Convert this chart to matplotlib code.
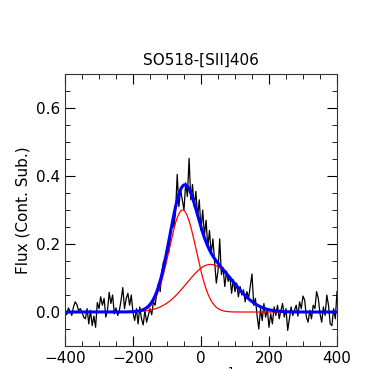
# SO518 [SII] 406 line profile with two-gaussian fit

import numpy as np
import matplotlib.pyplot as plt
from matplotlib.ticker import MultipleLocator

# velocity grid (km/s), 5 km/s steps
velocity = np.arange(-400, 405, 5)

# continuum subtracted flux
flux = [
    0.005, -0.008, 0.012, 0.002, -0.010, 0.015, 0.030, 0.022, 0.004, 0.010,
    0.000, -0.015, -0.020, 0.010, -0.035, 0.005, -0.040, -0.012, -0.045, 0.028,
    0.010, 0.045, 0.020, 0.040, -0.015, 0.005, 0.058, 0.025, 0.050, -0.005,
    0.012, -0.010, 0.005, 0.035, 0.072, 0.010, 0.040, 0.055, 0.020, 0.050,
    -0.002, -0.025, 0.010, -0.035, 0.015, -0.020, -0.038, 0.005, -0.030, -0.010,
    0.010, -0.008, 0.030, 0.020, 0.055, 0.085, 0.060, 0.120, 0.150, 0.135,
    0.190, 0.175, 0.220, 0.270, 0.250, 0.290, 0.405, 0.310, 0.360, 0.330,
    0.300, 0.380, 0.340, 0.452, 0.330, 0.375, 0.310, 0.355, 0.280, 0.330,
    0.240, 0.300, 0.225, 0.270, 0.190, 0.240, 0.170, 0.215, 0.150, 0.085,
    0.120, 0.215, 0.110, 0.130, 0.075, 0.120, 0.090, 0.105, 0.055, 0.095,
    0.060, 0.085, 0.045, 0.075, 0.050, 0.065, 0.030, 0.060, 0.040, 0.075,
    0.112, 0.020, 0.040, -0.010, -0.050, 0.010, -0.025, 0.025, -0.015, 0.010,
    -0.045, -0.005, -0.035, 0.015, -0.010, 0.020, -0.020, 0.005, 0.025, -0.015,
    0.010, -0.054, -0.020, 0.015, -0.010, 0.005, 0.020, -0.012, 0.030, 0.010,
    0.047, 0.035, -0.015, -0.030, 0.005, -0.020, 0.020, 0.010, 0.060, 0.040,
    -0.005, -0.030, 0.015, -0.010, 0.050, 0.020, -0.035, -0.040, 0.010, -0.020,
    0.060,
]

# gaussian components (amplitude, centre, sigma)
narrow = (0.30, -54.0, 40.0)
broad = (0.14, 28.0, 70.0)


def gauss(v, amp, mu, sig):
    return amp * np.exp(-(v - mu) ** 2 / (2 * sig ** 2))


vfine = np.linspace(-400, 400, 801)
g1 = gauss(vfine, *narrow)
g2 = gauss(vfine, *broad)

fig = plt.figure(figsize=(3.77, 3.69), dpi=100)
ax = fig.add_axes([0.1724, 0.0623, 0.7215, 0.737])

ax.plot(velocity, flux, color="black", lw=0.9)
ax.plot(vfine, g1, color="red", lw=0.9)
ax.plot(vfine, g2, color="red", lw=0.9)
ax.plot(vfine, g1 + g2, color="blue", lw=2.2)

ax.set_xlim(-400, 400)
ax.set_ylim(-0.1, 0.7)
ax.xaxis.set_major_locator(MultipleLocator(200))
ax.xaxis.set_minor_locator(MultipleLocator(50))
ax.yaxis.set_major_locator(MultipleLocator(0.2))
ax.yaxis.set_minor_locator(MultipleLocator(0.05))
ax.tick_params(which="both", direction="in", top=True, right=True, labelsize=11)
ax.tick_params(which="major", length=7)
ax.tick_params(which="minor", length=3.5)
for s in ax.spines.values():
    s.set_color("#333333")

ax.set_title("SO518-[SII]406", fontsize=11, pad=7)
ax.set_ylabel("Flux (Cont. Sub.)", fontsize=11)
# x label sits mostly below the figure edge, as in the original
ax.set_xlabel("V (km s$^{-1}$)", fontsize=11)
ax.xaxis.set_label_coords(0.5, -0.072)

fig.savefig("out.png", dpi=100)
